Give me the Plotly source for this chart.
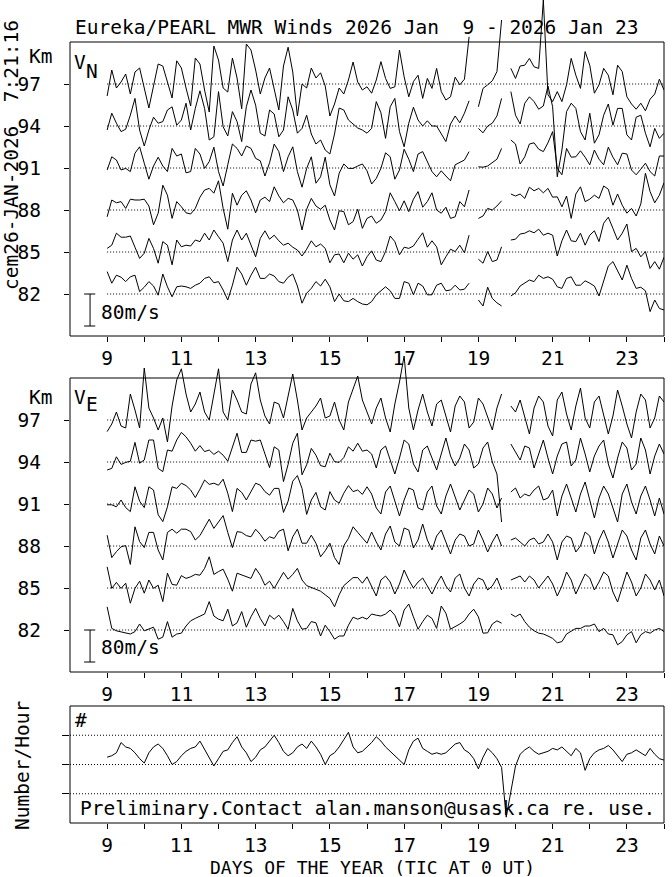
import numpy as np
import plotly.graph_objects as go

# ---------------- data (3-hourly samples, day 9.0 .. 24.0) ----------------
START_DAY = 9.0
STEP_DAY = 0.125
HEIGHTS = [97, 94, 91, 88, 85, 82]          # km
MS_PER_KM = 35.0                            # wind scale: 80 m/s bar = 80/35 km
N = None

vn97 = [-30, 35, -10, 5, 25, -25, 30, 40, -10, -60, -5, 50, 45, 5, -35, 58, 40, -10, -55, 65,
        50, -15, -70, 95, 60, -10, -20, 65, 15, -62, 100, 85, 35, -25, 15, 40, -10, -65, 45, 92,
        30, -80, 0, -10, 40, 15, 28, -5, -80, -50, -10, -25, 10, 55, 5, -15, -7, -23, 10, 56,
        14, -11, -7, 85, 18, -32, 6, 22, -36, 14, -11, 39, -19, -40, -32, 17, -2, 12, 118, N,
        -57, -11, -2, 8, 31, 160, N, 39, 14, 45, 47, 64, 43, 39, 210, -27, -44, -19, -44, -2,
        64, 22, -11, 81, 47, -23, -2, 39, 22, -27, 47, 31, -32, -50, -63, -48, -67, -38, -25, 12,
        -15]
vn94 = [-10, 32, 7, -14, -8, 27, 69, -10, -50, -10, 22, 7, 11, 40, 48, 2, 15, 57, -10, 44,
        88, 44, -35, -27, 86, -2, -25, 36, 11, -39, 48, 90, 52, -18, -25, 40, 30, -27, -10, 73,
        40, -18, -6, 27, -20, -45, -35, -60, -70, -20, 45, 40, 15, 5, -5, -10, -18, -6, 61, 33,
        -31, 48, 69, -14, -52, 7, 47, 15, 0, 13, 0, 0, -18, -39, 5, 25, 8, 32, 63, N,
        -6, -17, 0, 7, 25, 69, N, 86, 27, 5, 57, 73, 61, 42, 50, 100, 48, -127, -60, 36,
        57, 44, -14, -35, 32, -43, -22, 27, 55, 2, 44, 44, -22, -35, 22, 27, -18, -52, -6, -31,
        -18]
vn91 = [-5, 28, 20, -5, -1, -9, 37, 53, 12, -28, 5, 27, 5, -9, 49, 30, 35, -12, -9, 49,
        35, -1, 16, 52, -9, -45, 8, 60, 49, 30, 55, 49, 24, 18, -20, 13, 60, 41, -9, 28,
        53, -9, -48, -1, 28, -38, -22, 27, -42, -70, -13, 10, -1, -1, 5, 10, -7, -40, -26, -1,
        38, 28, -28, -5, 47, 22, -9, 35, 41, 16, -9, -22, -7, -20, -32, 8, 13, 20, 41, N,
        3, 2, 5, 13, 22, 49, N, 70, 60, 10, 28, 60, 63, 47, 41, 63, 91, -1, -17, 49,
        27, 28, 43, 27, 8, 45, 22, 8, 52, 27, 8, 37, 35, -5, -17, -3, 12, -9, -20, 30,
        30]
vn88 = [-17, 25, 18, 21, 4, 27, 25, 25, 27, 10, -37, -8, 62, 37, -21, 21, 8, -7, -10, 4,
        32, 50, 54, 42, 73, 4, -48, 42, 12, 37, 48, 25, -7, 25, 32, 21, 58, 35, 18, 29,
        25, 0, -50, 2, 29, 10, 2, 12, -25, -50, -2, -4, -37, -29, 2, -46, -21, -15, -33, -25,
        -4, 43, 21, -2, 23, -4, 27, 46, 7, 21, 43, 0, -8, 7, -21, -17, 21, 8, 50, N,
        -21, -15, 4, 0, 10, 23, N, 40, 35, 40, 29, 57, 48, 54, 43, 54, 32, 33, 8, 35,
        -21, 40, 58, 21, 27, 37, 29, 60, 52, 12, 40, 12, -8, 4, -15, 15, 92, 46, 18, 37,
        68]
vn85 = [9, 17, 47, 37, 37, 40, 12, -16, -3, 34, 9, -28, 26, 17, -32, 30, 13, 17, 15, 30,
        26, 47, 30, 55, 38, 22, -24, 30, 55, 30, 47, 17, -12, 34, 53, 32, 42, 28, 17, 22,
        12, 5, -10, 7, 28, 13, 20, 9, -27, -7, -5, -27, -3, -18, -7, -35, -12, 3, -20, -24,
        1, 40, 26, -7, 12, 9, 15, 32, 48, 12, 28, 13, -32, -12, 7, 1, 17, -2, 42, N,
        -18, -28, 1, -24, -20, 13, N, 30, 32, 45, 47, 53, 48, 57, 42, 47, 42, -10, 28, 55,
        28, 26, 47, 17, 42, 53, 26, 72, 87, 59, 30, 47, 70, 1, 9, -12, 1, -41, -24, -43,
        -13]
vn82 = [56, 27, 47, 42, 31, 43, 47, 6, 17, 31, 20, -3, 50, 18, -7, 18, 20, 18, 14, 22,
        27, 39, 43, 28, 31, 10, -15, 22, 67, 50, 22, 47, 67, 39, 39, 50, 45, 31, 27, 42,
        50, 20, -23, 2, 14, 31, 20, 37, 18, -19, 0, -17, -19, -11, -19, -25, -27, -19, -2, 8,
        18, 8, -11, -11, 31, 27, -2, 27, 20, -2, -2, 22, 27, 8, 10, 22, 10, 12, 27, N,
        -15, -30, 17, -11, -22, -30, N, -5, 3, 20, 27, 35, 31, 47, 39, 43, 37, 18, 14, 39,
        43, 22, 22, 33, 27, 20, -5, 35, 70, 81, 56, 35, 72, 39, 14, 17, 8, -44, -15, -36,
        -40]

ve97 = [-29, -10, 20, -15, -20, 65, 25, -20, 130, 30, 5, -25, 5, -55, 35, 100, 128, 65, 20, 40,
        70, 20, 0, 60, 128, 20, 0, 75, 50, 20, 15, 90, 118, 50, 10, -10, 45, 40, 5, 60,
        115, 50, -25, 5, 20, 35, 55, 5, 10, 45, 0, -25, 45, 75, 110, 50, 20, -10, 30, 55,
        5, -30, 40, 95, 160, 30, -25, 25, 65, 20, -15, 40, 50, 10, -30, 35, 60, 45, -20, -5,
        55, 40, 5, -25, 30, 65, N, 35, 20, 50, 10, -35, 30, 60, 45, -15, -40, 50, 70, 15,
        -25, 35, 80, 5, -20, 45, 60, 15, -35, 10, 75, 35, -10, -45, 20, 65, 50, -20, 5, 60,
        45]
ve94 = [-20, -16, 13, -6, -1, 2, 49, -3, 5, 55, 55, -16, -24, 30, 27, 55, 74, 63, 47, 27,
        41, 26, 30, 19, 27, 17, 2, 38, 72, 24, 24, 55, 52, 55, 22, -14, 38, 30, -49, -6,
        47, 72, -32, -7, 34, 17, -9, -12, 22, 1, -1, 11, 38, 27, 47, 27, 30, 20, -15, 30,
        40, 5, -30, 10, 55, 45, -5, -25, 30, 40, 10, -20, 20, 60, 15, -10, 10, 45, 30, -15,
        -5, 35, 50, 0, -30, -150, N, 45, 25, 5, 40, 35, -15, 20, 55, 10, -30, 15, 45, 50,
        -10, 5, 60, 20, -25, 15, 40, 55, -5, -40, 10, 50, 35, -20, -5, 60, 30, -30, 15, 45,
        20]
ve91 = [-2, -2, -7, 10, -9, -19, 43, 7, -9, 43, 35, -27, -44, -7, 43, 39, 52, 46, 35, 16,
        37, 60, 49, 52, 47, 62, 27, -19, 39, 29, 10, 31, 52, 47, 31, 22, 39, 39, -21, 7,
        57, 71, 39, -26, 10, 29, -7, -15, 31, 10, 2, 27, 46, 31, 35, 24, 43, 25, -10, -25,
        30, 45, 5, -30, 10, 40, 35, -10, -15, 30, 45, -5, -25, 20, 50, 15, -15, 10, 35, 25,
        -20, 0, 40, 25, -10, 15, N, 30, 40, 15, 25, 20, 35, 45, 10, 15, 35, -30, 20, 50,
        15, -20, 25, 55, 10, -35, 15, 45, 25, -10, -45, 25, 50, 5, -25, 20, 45, 10, -30, 15,
        -25]
ve88 = [27, -29, -14, -2, 1, -46, 48, 11, -4, 34, 34, -10, -35, 34, 42, 32, 42, 42, 36, 15,
        26, 48, 67, 44, 59, 76, 34, -4, 36, 34, 26, 23, 42, 29, 12, 23, 19, 37, 42, -12,
        23, 42, 7, 7, 27, 7, -27, -12, 7, -29, -46, 1, 19, 48, 34, 21, 7, 35, 10, -10,
        30, 50, 10, 0, 45, 40, -5, 15, 55, 15, -10, 25, 40, 10, -20, 15, 30, 25, 0, 5,
        40, 15, -15, 10, 30, 0, N, 15, 20, 10, 0, 15, 20, 5, 10, 30, 10, -35, 10, 25,
        20, -15, 0, 35, 25, -20, 15, 40, 10, -30, 5, 40, 25, -10, -35, 20, 40, 5, -20, 25,
        0]
ve85 = [53, -1, 14, -1, 12, -38, -1, 17, -13, 20, -1, 7, -34, 37, 9, 7, 31, 24, 28, 34,
        32, 49, 78, 34, 41, 47, 22, -8, 37, 32, 28, 24, 49, 32, 7, 17, -1, 20, 39, 22,
        34, 49, 20, 6, 1, -3, -8, -17, -26, -47, -17, 6, 16, 26, 26, 12, 28, 5, -20, 20,
        30, 15, -15, 10, 45, 20, 0, 15, 25, 5, -15, 10, 30, 5, -10, 25, 35, 0, -20, 10,
        25, 20, -5, 5, 25, -5, N, 20, 25, 30, 15, 30, 20, 0, 15, 30, 10, -20, 5, 40,
        20, -15, 10, 35, 25, -5, 15, 40, 30, -10, -35, 5, 40, 15, -20, 0, 35, 20, -5, 20,
        -20]
ve82 = [58, 4, -2, -5, -8, -10, -4, 15, -2, 2, 7, -23, -18, 21, -18, -10, -8, 10, 23, 29,
        35, 40, 71, 35, 27, 23, 52, 10, 18, 46, 7, 33, 54, 29, 10, 37, 27, 37, 21, 2,
        54, 23, 2, 4, 21, 18, -15, 12, -4, -23, -15, -15, 12, 32, 27, 32, 27, 40, 37, 35,
        40, 50, 37, 8, 50, 65, 33, 2, 21, 37, 29, 4, 60, 42, 2, 8, 15, 23, 40, 52,
        33, -8, -7, 15, 23, 17, N, 40, 33, 40, 21, 7, -2, -8, -10, -15, -21, -32, -29, -10,
        -4, 4, 4, 10, 10, 15, -4, 4, -10, -12, -37, -29, -12, -4, -32, -12, -4, -8, 0, 4,
        -4]

meteors = [2.25, 2.3, 2.4, 2.75, 2.6, 2.55, 2.4, 2.2, 2.05, 2.4, 2.6, 2.7, 2.55, 2.3, 2.0, 2.1,
           2.3, 2.45, 2.55, 2.6, 2.8, 2.5, 2.2, 1.95, 2.2, 2.45, 2.5, 2.75, 2.95, 2.6, 2.4, 2.1,
           2.25, 2.5, 2.6, 2.8, 3.0, 2.75, 2.45, 2.3, 2.4, 2.6, 2.7, 2.55, 2.8, 2.6, 2.35, 2.0,
           2.3, 2.4, 2.6, 2.85, 3.1, 2.6, 2.4, 2.45, 2.6, 2.75, 2.95, 2.8, 2.6, 2.45, 2.3, 2.15,
           2.0, 2.5, 2.8, 2.9, 2.55, 2.45, 2.35, 2.4, 2.35, 2.4, 2.55, 2.7, 2.75, 2.5, 2.4, 2.2,
           1.85, 2.25, 2.55, 2.4, 2.2, 1.9, 0.2, 1.1, 1.95, 2.35, 2.5, 2.6, 2.45, 2.35, 2.4, 2.45,
           2.55, 2.5, 2.6, 2.45, 2.3, 2.55, 2.4, 1.8, 2.2, 2.4, 2.5, 2.55, 2.65, 2.5, 2.3, 2.1,
           2.35, 2.4, 2.5, 2.4, 2.3, 2.55, 2.35, 2.2, 2.15]

VN = [vn97, vn94, vn91, vn88, vn85, vn82]
VE = [ve97, ve94, ve91, ve88, ve85, ve82]

days = START_DAY + STEP_DAY * np.arange(len(meteors))

# ---------------- layout geometry (pixels) ----------------
W, H = 672, 877
L, R, T, B = 70, 8, 0, 54
PW, PH = W - L - R, H - T - B
FONT = "DejaVu Sans Mono"
FS = 19.5


def xp(px):
    return (px - L) / PW


def yp(py):
    return (H - B - py) / PH


PX_PER_KM = 14.0
p1_bot, p1_top = 336, 0
p2_bot, p2_top = 672, 345
p3_bot, p3_top = 823, 706
box1_top = p1_bot - (100 - 79) * PX_PER_KM
box2_top = p2_bot - (100 - 79) * PX_PER_KM

fig = go.Figure()
line_style = dict(color="black", width=1)

for h, v in zip(HEIGHTS, VN):
    y = h + np.array(v, dtype=float) / MS_PER_KM
    fig.add_trace(go.Scatter(x=days, y=y, mode="lines", line=line_style,
                             xaxis="x", yaxis="y", showlegend=False, hoverinfo="skip"))
for h, v in zip(HEIGHTS, VE):
    y = h + np.array(v, dtype=float) / MS_PER_KM
    fig.add_trace(go.Scatter(x=days, y=y, mode="lines", line=line_style,
                             xaxis="x2", yaxis="y2", showlegend=False, hoverinfo="skip"))
fig.add_trace(go.Scatter(x=days, y=meteors, mode="lines", line=line_style,
                         xaxis="x3", yaxis="y3", showlegend=False, hoverinfo="skip"))

day_ticks = list(range(9, 25))
day_text = [str(d) if d % 2 == 1 else "" for d in day_ticks]
xcommon = dict(range=[8, 24], domain=[0, 1], tickvals=day_ticks, ticktext=day_text,
               ticks="outside", ticklen=5, tickcolor="black", tickwidth=1,
               tickfont=dict(family=FONT, size=FS, color="black"),
               showgrid=False, zeroline=False, showline=False, fixedrange=True,
               automargin=False)
ycommon = dict(ticks="outside", ticklen=5, tickcolor="black", tickwidth=1,
               tickfont=dict(family=FONT, size=FS, color="black"),
               showgrid=False, zeroline=False, showline=False, fixedrange=True,
               ticklabelstandoff=19, automargin=False)

fig.update_layout(
    width=W, height=H, margin=dict(l=L, r=R, t=T, b=B, autoexpand=False),
    paper_bgcolor="white", plot_bgcolor="white",
    xaxis=dict(anchor="y", **xcommon),
    xaxis2=dict(anchor="y2", **xcommon),
    xaxis3=dict(anchor="y3", **xcommon),
    yaxis=dict(anchor="x", domain=[yp(p1_bot), yp(p1_top)],
               range=[79, 79 + (p1_bot - p1_top) / PX_PER_KM], tickvals=HEIGHTS, **ycommon),
    yaxis2=dict(anchor="x2", domain=[yp(p2_bot), yp(p2_top)],
                range=[79, 79 + (p2_bot - p2_top) / PX_PER_KM], tickvals=HEIGHTS, **ycommon),
    yaxis3=dict(anchor="x3", domain=[yp(p3_bot), yp(p3_top)], range=[0, 4],
                tickvals=[1, 2, 3], showticklabels=False,
                ticks="outside", ticklen=7, tickcolor="black",
                showgrid=False, zeroline=False, showline=False, fixedrange=True,
                automargin=False),
)

shapes = []
solid = dict(color="black", width=1)


def frame(top_py, bot_py):
    x0, x1 = xp(L), xp(L + PW)
    y0, y1 = yp(bot_py), yp(top_py)
    for (a, b, c, d) in [(x0, y0, x1, y0), (x0, y1, x1, y1), (x0, y0, x0, y1), (x1, y0, x1, y1)]:
        shapes.append(dict(type="line", xref="paper", yref="paper",
                           x0=a, y0=b, x1=c, y1=d, line=solid))


frame(box1_top, p1_bot)
frame(box2_top, p2_bot)
frame(p3_top, p3_bot)

dot = dict(color="black", width=1, dash="1px,2px")
for h in HEIGHTS:
    shapes.append(dict(type="line", xref="x", yref="y", x0=9, x1=24, y0=h, y1=h, line=dot))
    shapes.append(dict(type="line", xref="x2", yref="y2", x0=9, x1=24, y0=h, y1=h, line=dot))
for lv in [1, 2, 3]:
    shapes.append(dict(type="line", xref="x3", yref="y3", x0=8, x1=24, y0=lv, y1=lv, line=dot))

# 80 m/s scale bars
bar_x, cap0, cap1 = 8.54, 8.38, 8.68
bar_len = 80 / MS_PER_KM
for xr, yr in [("x", "y"), ("x2", "y2")]:
    shapes.append(dict(type="line", xref=xr, yref=yr, x0=bar_x, x1=bar_x, y0=82, y1=82 - bar_len, line=solid))
    shapes.append(dict(type="line", xref=xr, yref=yr, x0=cap0, x1=cap1, y0=82, y1=82, line=solid))
    shapes.append(dict(type="line", xref=xr, yref=yr, x0=cap0, x1=cap1, y0=82 - bar_len, y1=82 - bar_len, line=solid))
fig.update_layout(shapes=shapes)

tf = dict(family=FONT, size=FS, color="black")
ann = []


def add_text(text, px, py, xanchor="center", angle=0, font=tf, yanchor="middle"):
    ann.append(dict(text=text, x=xp(px), y=yp(py), xref="paper", yref="paper",
                    xanchor=xanchor, yanchor=yanchor, showarrow=False,
                    textangle=angle, font=font, borderpad=0))


add_text("Eureka/PEARL MWR Winds 2026 Jan  9 - 2026 Jan 23", 357, 28)
add_text("Km", 40, 56)
add_text("Km", 40, 397)
add_text("V", 80, 62)
add_text("N", 91.5, 72)
add_text("V", 80, 397)
add_text("E", 91.5, 405)
add_text("cem26-JAN-2026  7:21:16", 11, 155, angle=-90)
add_text("Number/Hour", 22, 765, angle=-90)
add_text("#", 81, 720)
add_text("Preliminary.Contact alan.manson@usask.ca re. use.", 79, 808, xanchor="left")
add_text("DAYS OF THE YEAR (TIC AT 0 UT)", 372, 867, font=dict(family=FONT, size=18, color="black"))
for xr, yr, yv in [("x", "y", 82 - 18 / PX_PER_KM), ("x2", "y2", 82 - 17 / PX_PER_KM)]:
    ann.append(dict(text="80m/s", x=8 + 29 / 37.17, y=yv, xref=xr, yref=yr,
                    xanchor="left", yanchor="middle", showarrow=False, font=tf))
fig.update_layout(annotations=ann)

fig.write_html("out.html", config={"displayModeBar": False},
               post_script="document.body.style.margin='0';document.body.style.padding='0';")
